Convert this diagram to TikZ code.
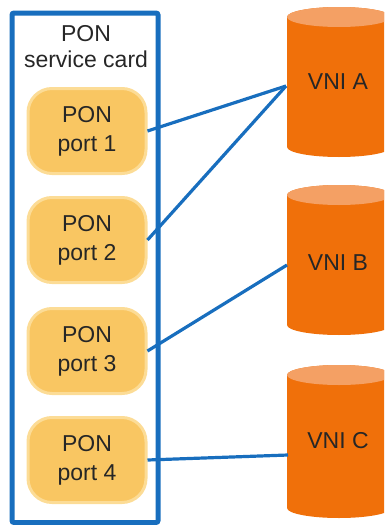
\documentclass[tikz,border=0pt]{standalone}
\usepackage{fontspec}
\setmainfont{Liberation Sans}
\definecolor{cardblue}{RGB}{24,110,190}
\definecolor{portfill}{RGB}{249,198,98}
\definecolor{portedge}{RGB}{252,220,150}
\definecolor{cylbody}{RGB}{240,112,10}
\definecolor{cyltop}{RGB}{244,160,100}
\begin{document}
\begin{tikzpicture}[x=1pt,y=-1pt,
  card/.style={draw=cardblue,line width=5pt,rounded corners=2pt},
  port/.style={draw=portedge,fill=portfill,line width=3pt,rounded corners=24pt,
    minimum width=118pt,minimum height=85pt,align=center,font=\fontsize{23}{29}\selectfont,text=black!85},
  link/.style={draw=cardblue,line width=3.2pt},
  lbl/.style={font=\fontsize{23}{29}\selectfont,text=black!85,inner sep=0pt}]
\useasboundingbox (0,0) rectangle (384,525);
\begin{scope}
\clip (0,0) rectangle (384,525);
% card
\draw[card] (12,13) rectangle (158,522.5);
\node[lbl,align=center] (title) at (86,47) {PON\\[-3pt]service card};
% ports
\node[port] (p1) at (87,131) {PON\\port 1};
\node[port] (p2) at (87,240) {PON\\port 2};
\node[port] (p3) at (87,351) {PON\\port 3};
\node[port] (p4) at (87,460) {PON\\port 4};
% cylinders
\foreach \n/\t/\b in {A/17/147, B/195/325, C/375/508}{
  \fill[cylbody] (287,\t) -- (287,\b) arc[start angle=180,end angle=0,x radius=52,y radius=10]
     -- (391,\t) arc[start angle=0,end angle=-180,x radius=52,y radius=10] -- cycle;
  \fill[cyltop] (339,\t) ellipse[x radius=52,y radius=10];
}
\node[lbl] (va) at (338,82) {VNI A};
\node[lbl] (vb) at (338,263) {VNI B};
\node[lbl] (vc) at (338,441) {VNI C};
\coordinate (ca) at (286,86);
\coordinate (cb) at (287,265);
\coordinate (cc) at (288,455);
% links
\draw[link] (p1.east) -- (ca);
\draw[link] (p2.east) -- (ca);
\draw[link] (p3.east) -- (cb);
\draw[link] (p4.east) -- (cc);
\end{scope}
\end{tikzpicture}
\end{document}
